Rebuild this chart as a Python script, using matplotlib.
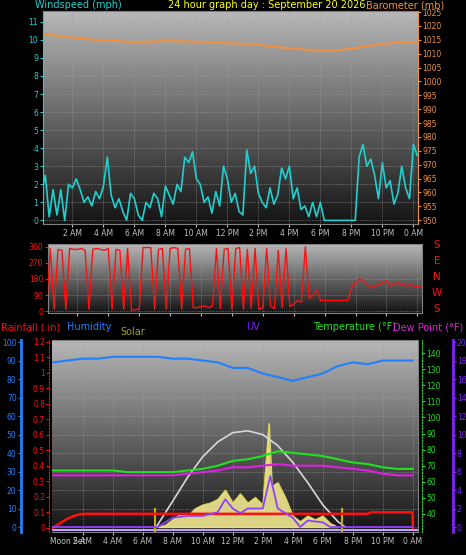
import numpy as np
import matplotlib
matplotlib.use("Agg")
import matplotlib.pyplot as plt

W, H = 466, 555

# ---- data ----
wind_t = np.arange(0, 24.26, 0.25)
wind = [1.5, 2.5, 0.2, 1.7, 0.3, 1.7, 0.0, 2.0,
        1.8, 2.3, 1.7, 1.0, 1.3, 0.8, 1.6, 1.2,
        1.9, 3.5, 1.4, 0.7, 1.2, 0.5, 0.0, 1.5,
        1.2, 0.3, 0.0, 1.0, 0.7, 1.5, 1.2, 0.2,
        1.9, 1.4, 0.9, 2.0, 1.6, 3.5, 3.2, 3.8,
        2.3, 2.0, 1.0, 1.3, 0.4, 1.6, 0.8, 3.0,
        2.3, 1.0, 1.5, 0.5, 0.3, 3.9, 2.6, 3.0,
        1.5, 1.0, 0.7, 1.8, 0.9, 1.4, 2.9, 2.3,
        3.0, 1.2, 1.8, 0.6, 0.8, 0.2, 1.0, 0.2,
        1.0, 0.0, 0.0, 0.0, 0.0, 0.0, 0.0, 0.0,
        0.0, 0.0, 3.5, 4.2, 3.0, 3.4, 2.5, 1.2,
        3.2, 1.8, 2.2, 0.9, 1.5, 3.0, 1.8, 1.2,
        4.2, 3.6]
baro_t = [0, 1, 2, 3, 4, 5, 6, 7, 8, 9, 10, 11, 12, 13, 14, 15, 16, 17, 18, 19, 20, 21, 22, 23, 24.2]
baro = [1017, 1016.5, 1015.8, 1015.3, 1014.8, 1014.5, 1014.2, 1014.3, 1014.6, 1014.5, 1014.3,
        1014.0, 1013.8, 1013.6, 1013.3, 1012.5, 1012.0, 1011.5, 1011.0, 1011.2, 1011.8,
        1012.8, 1013.5, 1014.0, 1014.2]

dir_t = np.arange(0, 24.26, 0.25)
wdir = [10, 350, 10, 345, 340, 10, 350, 345,
        345, 350, 340, 10, 345, 350, 345, 340,
        350, 10, 345, 340, 10, 350, 5, 10,
        10, 355, 355, 355, 10, 345, 350, 10,
        350, 355, 350, 10, 345, 350, 20, 20,
        25, 30, 20, 30, 350, 15, 345, 350,
        10, 350, 355, 10, 345, 15, 350, 10,
        20, 350, 30, 15, 340, 20, 350, 25,
        40, 60, 50, 360, 70, 90, 120, 60,
        60, 60, 60, 60, 60, 60, 60, 130,
        160, 180, 170, 150, 130, 140, 150, 160,
        170, 140, 150, 160, 150, 140, 150, 140,
        140, 140]

hrs = [0, 1, 2, 3, 4, 5, 6, 7, 8, 9, 10, 11, 12, 13, 14, 15, 16, 17, 18, 19, 20, 21, 22, 23, 24]
humidity = [89, 90, 91, 91, 92, 92, 92, 92, 91, 91, 90, 89, 86, 86, 83, 81, 79, 81, 83, 87, 89, 88, 90, 90, 90]
temperature = [67, 67, 67, 67, 67, 66, 66, 66, 66, 67, 68, 70, 73, 74, 76, 79, 78, 77, 76, 74, 72, 71, 69, 68, 68]
dewpoint = [64, 64, 64, 64, 64, 64, 64, 64, 64, 65, 66, 67, 69, 69, 70, 71, 70, 70, 70, 69, 68, 67, 65, 64, 64]
rain_t = [0, 0.5, 1, 1.5, 2, 21, 21.2, 24, 24.01]
rain = [0, 0.03, 0.06, 0.08, 0.09, 0.09, 0.10, 0.10, 0]
maxsol_t = [6.9, 8, 9, 10, 11, 12, 13, 14, 15, 16, 17, 18, 19, 19.5]
maxsol = [0, 14, 27, 38, 46, 51, 52, 50, 44, 35, 24, 12, 3, 0]
sol_t = [7, 7.5, 8, 8.5, 9, 9.5, 10, 10.5, 11, 11.5, 12, 12.5, 13, 13.5, 14, 14.4, 14.6, 15,
         15.5, 16, 16.5, 17, 17.5, 18, 18.5, 19]
solar = [0, 1, 4, 7, 6, 10, 12, 13, 15, 20, 13, 18, 13, 16, 12, 56, 22, 24, 16, 6, 3, 6, 4, 6, 2, 0]
uv_t = [0, 7, 8, 9, 10, 11, 11.5, 12, 12.5, 13, 13.5, 14, 14.5, 15, 15.5, 16, 16.5, 17, 18, 18.5, 24]
uv = [0, 0, 1, 1.2, 1.2, 1.6, 3, 2, 1.5, 2, 2, 2, 5.5, 2, 1.5, 1, 0, 0.7, 0.5, 0, 0]

hour_ticks = [2, 4, 6, 8, 10, 12, 14, 16, 18, 20, 22, 24]
hour_labels = ["2 AM", "4 AM", "6 AM", "8 AM", "10 AM", "12 PM", "2 PM", "4 PM", "6 PM", "8 PM", "10 PM", "0 AM"]

CYAN = "#20d0d0"
ORANGE = "#f09040"
RED = "#ff1010"
BLUE = "#2080ff"
GREEN = "#20e020"
PURPLE = "#8020ff"
MAG = "#e020e0"
FS = 5.5
TFS = 7

fig = plt.figure(figsize=(W / 100, H / 100), dpi=100, facecolor="black")


def box(x0, y0, x1, y1):
    return [x0 / W, 1 - y1 / H, (x1 - x0) / W, (y1 - y0) / H]


def style(ax, col_left):
    ax.set_facecolor("black")
    grad = np.linspace(0.72, 0.08, 100)[:, None]
    ax.imshow(grad, extent=[0, 1, 0, 1], transform=ax.transAxes, aspect="auto",
              cmap="gray", vmin=0, vmax=1, zorder=0)
    for s in ax.spines.values():
        s.set_color("#808080")
    ax.tick_params(axis="y", colors=col_left, labelsize=FS, length=2, pad=1.5)
    ax.tick_params(axis="x", colors="#c0c0c0", labelsize=FS, length=2, pad=1.5)
    ax.grid(True, color="#a0a0a0", ls=":", lw=0.5)


# ---- panel 1: wind and barometer ----
ax1 = fig.add_axes(box(43, 11, 418, 224))
style(ax1, CYAN)
ax1.plot(wind_t, wind, color=CYAN, lw=1.2, zorder=3)
ax1.set_xlim(0.1, 24.3)
ax1.set_ylim(-0.2, 11.6)
ax1.set_yticks(range(0, 12))
ax1.set_xticks(hour_ticks)
ax1.set_xticklabels(hour_labels)
ax1.spines["left"].set_color(CYAN)
b1 = ax1.twinx()
b1.plot(baro_t, baro, color=ORANGE, lw=1.5)
b1.set_ylim(948.6, 1025.4)
b1.set_yticks(range(950, 1026, 5))
b1.tick_params(axis="y", colors=ORANGE, labelsize=FS, length=2, pad=1)
b1.spines["right"].set_color(ORANGE)
for s in ["left", "top", "bottom"]:
    b1.spines[s].set_visible(False)

fig.text(35 / W, 1 - 5 / H, "Windspeed (mph)", color=CYAN, fontsize=TFS, va="center")
fig.text(267 / W, 1 - 5 / H, "24 hour graph day : September 20 2026", color="#ffff20",
         fontsize=TFS, va="center", ha="center")
fig.text(444 / W, 1 - 5 / H, "Barometer (mb)", color=ORANGE, fontsize=TFS, va="center", ha="right")

# ---- panel 2: wind direction ----
ax2 = fig.add_axes(box(48, 244, 422, 313))
style(ax2, RED)
ax2.plot(dir_t, wdir, color=RED, lw=1.0, zorder=3)
ax2.set_xlim(0.1, 24.3)
ax2.set_ylim(-10, 375)
ax2.set_yticks([0, 90, 180, 270, 360])
ax2.set_xticks(hour_ticks)
ax2.set_xticklabels([])
for i, c in enumerate("SENWS"):
    fig.text(437 / W, 1 - (245 + i * 16) / H, c, color=RED, fontsize=7.5, ha="center", va="center")

# ---- panel 3: humidity, rain, temp, uv, solar ----
ax3 = fig.add_axes(box(52, 340, 418, 532))
style(ax3, BLUE)
ax3.set_xlim(-0.05, 24.35)
ax3.set_ylim(-2.7, 101.1)
ax3.set_yticks(range(0, 101, 10))
ax3.spines["left"].set_position(("outward", 22))
ax3.spines["left"].set_color(BLUE)
ax3.spines["left"].set_linewidth(2)
ax3.set_xticks(hour_ticks)
ax3.set_xticklabels(hour_labels)
ax3.fill_between(sol_t, solar, color="#f0e890", alpha=0.9, zorder=2)
ax3.plot(sol_t, solar, color="#d8c840", lw=0.6, zorder=2)
ax3.plot(maxsol_t, maxsol, color="#d8d8d8", lw=1.2, zorder=3)
ax3.plot(hrs, humidity, color=BLUE, lw=1.5, zorder=4)
ax3.axhline(-1.5, color="#c0a0ff", lw=1.5, zorder=3)
for t in [6.8, 19.3]:
    ax3.plot([t, t], [-2, 10], color="#c8b000", lw=1.5, zorder=3)

r3 = ax3.twinx()
r3.yaxis.set_ticks_position("left")
r3.spines["left"].set_position(("outward", 2))
r3.spines["left"].set_visible(True)
r3.spines["left"].set_color(RED)
r3.spines["left"].set_linestyle(":")
r3.set_ylim(-0.027, 1.211)
r3.set_yticks([0, 0.1, 0.2, 0.3, 0.4, 0.5, 0.6, 0.7, 0.8, 0.9, 1, 1.1, 1.2])
r3.set_yticklabels(["0", "0.1", "0.2", "0.3", "0.4", "0.5", "0.6", "0.7", "0.8", "0.9", "1", "1.1", "1.2"])
r3.tick_params(axis="y", colors=RED, labelsize=FS, length=2, pad=1)
r3.plot(rain_t, rain, color=RED, lw=1.8, zorder=5)
for s in ["right", "top", "bottom"]:
    r3.spines[s].set_visible(False)

t3 = ax3.twinx()
t3.set_ylim(28.8, 148.1)
t3.set_yticks(range(40, 141, 10))
t3.tick_params(axis="y", colors=GREEN, labelsize=FS, length=2, pad=1)
t3.spines["right"].set_position(("outward", 3))
t3.spines["right"].set_color(GREEN)
t3.spines["right"].set_linestyle(":")
t3.plot(hrs, temperature, color=GREEN, lw=1.5)
t3.plot(hrs, dewpoint, color=MAG, lw=1.5)
for s in ["left", "top", "bottom"]:
    t3.spines[s].set_visible(False)

u3 = ax3.twinx()
u3.set_ylim(-0.54, 20.22)
u3.set_yticks(range(0, 21, 2))
u3.tick_params(axis="y", colors=PURPLE, labelsize=FS, length=2, pad=1)
u3.spines["right"].set_position(("outward", 25))
u3.spines["right"].set_color(PURPLE)
u3.spines["right"].set_linewidth(2)
u3.plot(uv_t, uv, color="#9040ff", lw=1.3)
for s in ["left", "top", "bottom"]:
    u3.spines[s].set_visible(False)

fig.text(50 / W, 1 - 542 / H, "Moon Set", color="#c0c0c0", fontsize=FS, ha="left", va="center")

fig.text(1 / W, 1 - 327 / H, "Rainfall (.in)", color=RED, fontsize=TFS, va="center")
fig.text(67 / W, 1 - 327 / H, "Humidity", color=BLUE, fontsize=TFS, va="center")
fig.text(120 / W, 1 - 332 / H, "Solar", color="#a0a030", fontsize=TFS, va="center")
fig.text(246 / W, 1 - 327 / H, "UV", color=PURPLE, fontsize=TFS, va="center")
fig.text(313 / W, 1 - 327 / H, "Temperature (°F)", color=GREEN, fontsize=TFS, va="center")
fig.text(463 / W, 1 - 327 / H, "Dew Point (°F)", color=MAG, fontsize=TFS, va="center", ha="right")

fig.savefig("out.png", dpi=100, facecolor="black")
